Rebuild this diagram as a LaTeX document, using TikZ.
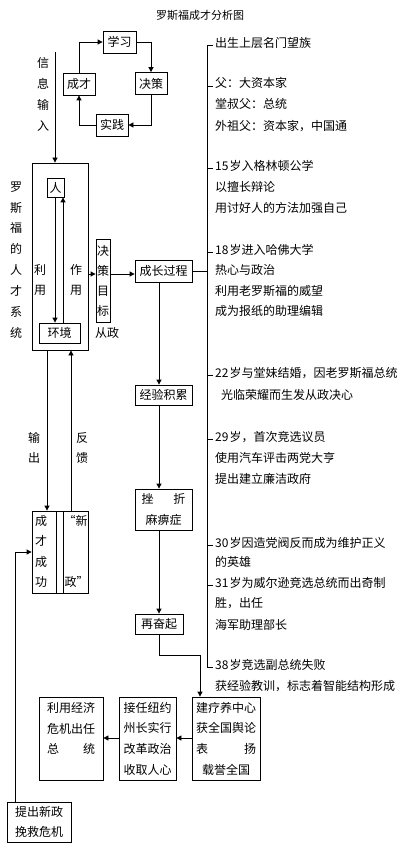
\documentclass[tikz,border=0pt]{standalone}
\usepackage{fontspec}
\setmainfont{Noto Sans CJK SC}
\usetikzlibrary{arrows.meta}
\tikzset{
  every picture/.style={x=1pt,y=-1pt},
  ln/.style={line width=0.8pt},
  arr/.style={ln,-{Triangle[length=5pt,width=5pt]}},
  bx/.style={draw,line width=0.8pt,inner sep=0pt,align=center,font=\fontsize{12}{20.7}\selectfont},
  txt/.style={inner sep=0pt,font=\fontsize{12}{14}\selectfont},
  tl/.style={txt,anchor=west},
  vt/.style={inner sep=0pt,align=center,font=\fontsize{12}{20.9}\selectfont},
  tick/.style={ln}
}
\begin{document}
\begin{tikzpicture}
\useasboundingbox (0,0) rectangle (401,850);
% title
\node[txt,font=\fontsize{11}{13}\selectfont] (title) at (200,15) {罗斯福成才分析图};
% loop
\node[bx,minimum width=33pt,minimum height=22pt] (xx) at (119.5,42) {学习};
\node[bx,minimum width=32pt,minimum height=22pt] (jc) at (151,83.5) {决策};
\node[bx,minimum width=32pt,minimum height=22pt] (cc) at (79,84) {成才};
\node[bx,minimum width=32pt,minimum height=22pt] (sj) at (112,125) {实践};
\draw[arr] (cc.north) |- (xx.west);
\draw[arr] (xx.east) -| (jc.north);
\draw[arr] (jc.south) |- (sj.east);
\draw[arr] (sj.west) -| (cc.south);
% info input
\node[vt,font=\fontsize{12}{21}\selectfont] (xxsr) at (43,94) {信\\息\\输\\入};
% big box
\node[draw,ln,minimum width=56pt,minimum height=187pt,inner sep=0pt] (big) at (60,256.5) {};
\coordinate (inTop) at (55,52);
\draw[arr] (inTop) -- (inTop |- big.north);
\node[vt] (sys) at (16,260) {罗\\斯\\福\\的\\人\\才\\系\\统};
\node[bx,minimum width=17pt,minimum height=19pt] (ren) at (55.5,187.5) {人};
\node[bx,minimum width=41pt,minimum height=20pt] (hj) at (59.5,333) {环境};
\coordinate (dnx) at (55,0);
\coordinate (upx) at (63,0);
\draw[arr] (ren.south -| dnx) -- (hj.north -| dnx);
\draw[arr] (hj.north -| upx) -- (ren.south -| upx);
\node[vt,font=\fontsize{12}{20}\selectfont] (ly) at (40,280) {利\\用};
\node[vt,font=\fontsize{12}{20}\selectfont] (zy) at (76,280) {作\\用};
% decision target
\node[bx,font=\fontsize{12}{20}\selectfont,minimum width=14pt,minimum height=83pt] (jcmb) at (103,280.5) {决\\策\\目\\标};
\node[txt] (cz0) at (107,333) {从政};
\coordinate (ay) at (0,274);
\draw[arr] (big.east |- ay) -- (jcmb.west |- ay);
\node[bx,minimum width=57pt,minimum height=22pt] (czgc) at (163.5,271) {成长过程};
\draw[arr] (jcmb.east |- ay) -- (czgc.west |- ay);
% middle chain
\coordinate (mx) at (159,0);
\node[bx,minimum width=57pt,minimum height=20pt] (jyjl) at (163.5,395) {经验积累};
\node[bx,minimum width=57pt,minimum height=41pt] (cz) at (163.5,509.5) {\makebox[44pt]{挫\hfill 折}\\麻痹症};
\node[bx,minimum width=48pt,minimum height=20pt] (zfq) at (159,624) {再奋起};
\draw[arr] (czgc.south -| mx) -- (jyjl.north -| mx);
\draw[arr] (jyjl.south -| mx) -- (cz.north -| mx);
\draw[arr] (cz.south -| mx) -- (zfq.north -| mx);
% bottom boxes
\node[bx,minimum width=68pt,minimum height=83pt] (jl) at (226,738.5) {建疗养中心\\获全国舆论\\\makebox[60pt]{表\hfill 扬}\\载誉全国};
\node[bx,minimum width=57pt,minimum height=83pt] (jr) at (147.5,738.5) {接任纽约\\州长实行\\改革政治\\收取人心};
\node[bx,minimum width=64pt,minimum height=83pt] (ly2) at (71,738.5) {利用经济\\危机出任\\\makebox[48pt]{总\hfill 统}\\\mbox{}};
\node[bx,minimum width=64pt,minimum height=40pt] (tc) at (39,822) {提出新政\\挽救危机};
\coordinate (bend) at (200,655);
\draw[arr] (zfq.south) |- (bend) -- (bend |- jl.north);
\coordinate (by) at (0,738);
\draw[arr] (jl.west |- by) -- (jr.east |- by);
\draw[arr] (jr.west |- by) -- (ly2.east |- by);
% success box
\node[draw,ln,minimum width=56pt,minimum height=82pt,inner sep=0pt] (cg) at (60,552) {};
\draw[ln] (56,511) -- (56,593);
\draw[ln] (63,511) -- (63,593);
\node[vt,font=\fontsize{12}{20.5}\selectfont] (cgt) at (41,551.5) {成\\才\\成\\功};
\node[txt,anchor=west] (xz1) at (63.5,521) {“新};
\node[txt,anchor=west] (xz2) at (64.5,582) {政”};
\coordinate (ox) at (47,0);
\coordinate (fx) at (71,0);
\draw[arr] (big.south -| ox) -- (cg.north -| ox);
\draw[arr] (cg.north -| fx) -- (big.south -| fx);
\node[vt,font=\fontsize{12}{20}\selectfont] (sc) at (34,448) {输\\出};
\node[vt,font=\fontsize{12}{20}\selectfont] (fk) at (82,448) {反\\馈};
\coordinate (tcy) at (15,552);
\draw[arr] (tc.north -| tcy) -- (tcy) -- (cg.west |- tcy);
% timeline
\draw[ln] (213,45) -- (207,45) -- (207,667) -- (213,667);
\draw[ln] (czgc.east) -- (207,271);
\node[tl] (t1) at (215,43) {出生上层名门望族};
\node[tl] (t2) at (215,83) {父：大资本家};
\node[tl] (t3) at (215,104) {堂叔父：总统};
\node[tl] (t4) at (215,126) {外祖父：资本家，中国通};
\node[tl] (t5) at (215,166) {15\kern1pt 岁入格林顿公学};
\node[tl] (t6) at (215,187) {以擅长辩论};
\node[tl] (t7) at (215,208) {用讨好人的方法加强自己};
\node[tl] (t8) at (215,250) {18\kern1pt 岁进入哈佛大学};
\node[tl] (t9) at (215,270) {热心与政治};
\node[tl] (t10) at (215,291) {利用老罗斯福的威望};
\node[tl] (t11) at (215,311) {成为报纸的助理编辑};
\node[tl] (t12) at (215,373) {22\kern1pt 岁与堂妹结婚，因老罗斯福总统};
\node[tl] (t13) at (221,395) {光临荣耀而生发从政决心};
\node[tl] (t14) at (215,437) {29\kern1pt 岁，首次竞选议员};
\node[tl] (t15) at (215,458) {使用汽车评击两党大亨};
\node[tl] (t16) at (215,479) {提出建立廉洁政府};
\node[tl] (t17) at (215,543) {30\kern1pt 岁因造党阀反而成为维护正义};
\node[tl] (t18) at (215,562) {的英雄};
\node[tl] (t19) at (215,583) {31\kern1pt 岁为威尔逊竞选总统而出奇制};
\node[tl] (t20) at (215,603) {胜，出任};
\node[tl] (t21) at (215,625) {海军助理部长};
\node[tl] (t22) at (215,665) {38\kern1pt 岁竞选副总统失败};
\node[tl] (t23) at (215,686) {获经验教训，标志着智能结构形成};
\foreach \n/\y in {t2/86,t5/168.5,t8/252.5,t12/375.5,t14/439.5,t17/545.5,t19/585.5}
  \draw[tick] (207,\y) -- (213,\y);
\end{tikzpicture}
\end{document}
